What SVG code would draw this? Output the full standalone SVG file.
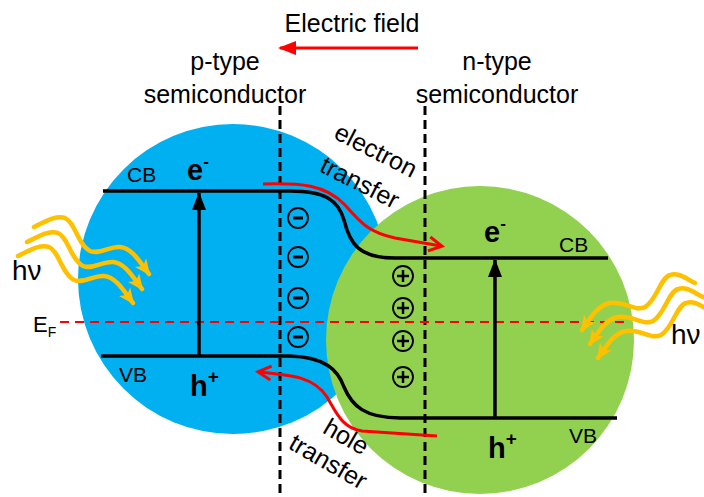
<svg xmlns="http://www.w3.org/2000/svg" width="704" height="497" viewBox="0 0 704 497">
<style>
text{font-family:"Liberation Sans",Arial,sans-serif;fill:#000}
.lbl{font-size:25px}
.band{font-size:21px}
.car{font-size:29px;font-weight:bold}
.line{fill:none;stroke:#000;stroke-width:3.5}
.dash{fill:none;stroke:#000;stroke-width:3;stroke-dasharray:9,5}
.red{fill:none;stroke:#FF0000;stroke-width:3}
.wave{fill:none;stroke:#FFC000;stroke-width:4.5;stroke-linecap:round}
.chg{fill:none;stroke:#000;stroke-width:1.8}
</style>
<defs>
<marker id="ar" markerUnits="userSpaceOnUse" markerWidth="20" markerHeight="20" viewBox="0 0 20 20" refX="16" refY="10" orient="auto"><path d="M0,3 L18,10 L0,17 Z" fill="#FF0000"/></marker>
<marker id="arr" markerUnits="userSpaceOnUse" markerWidth="20" markerHeight="20" viewBox="0 0 20 20" refX="15" refY="10" orient="auto"><path d="M3,3 L16,10 L3,17" fill="none" stroke="#FF0000" stroke-width="3"/></marker>
<marker id="ak" markerUnits="userSpaceOnUse" markerWidth="20" markerHeight="20" viewBox="0 0 20 20" refX="17" refY="10" orient="auto"><path d="M0,3 L18,10 L0,17 Z" fill="#000"/></marker>
<marker id="ay" markerUnits="userSpaceOnUse" markerWidth="20" markerHeight="20" viewBox="0 0 20 20" refX="14" refY="10" orient="auto"><path d="M0,3 L16,10 L0,17 L4,10 Z" fill="#FFC000"/></marker>
<path id="wl" d="M34,227 C45,222 55,215 65,218 C75,222 78,245 90,251 C100,255 110,246 120,247 C132,248 140,262 149,274"/>
<path id="wr" d="M695,283 C685,278 678,272 670,275 C660,278 657,300 645,307 C635,312 625,301 610,303 C598,305 590,318 582,330"/>
</defs>
<g id="p-particle"><circle cx="233" cy="279" r="155" fill="#00B0F0"/></g>
<g id="n-particle"><circle cx="480" cy="340" r="154" fill="#92D050"/></g>
<g id="title">
<text class="lbl" x="352" y="32" text-anchor="middle">Electric field</text>
<text class="lbl" x="225" y="70" text-anchor="middle">p-type</text>
<text class="lbl" x="225" y="103" text-anchor="middle">semiconductor</text>
<text class="lbl" x="497" y="70" text-anchor="middle">n-type</text>
<text class="lbl" x="497" y="103" text-anchor="middle">semiconductor</text>
</g>
<g id="connectors">
<line x1="418" y1="48" x2="280" y2="48" class="red" stroke-width="4" marker-end="url(#ar)"/>
<line x1="280" y1="106" x2="280" y2="497" class="dash"/>
<line x1="425" y1="106" x2="425" y2="497" class="dash"/>
<path class="line" d="M103,191 L290,191 C325,191 338,200 344,220 C350,245 360,258 395,258 L608,258"/>
<path class="line" d="M101,356 L290,356 C325,357 338,370 344,387 C352,406 365,418 400,418 L617,418"/>
<line x1="60" y1="322" x2="630" y2="322" stroke="#FF0000" stroke-width="2" stroke-dasharray="9,6"/>
<line x1="199" y1="356" x2="199" y2="193" class="line" marker-end="url(#ak)"/>
<line x1="495" y1="418" x2="495" y2="260" class="line" marker-end="url(#ak)"/>
<path class="red" d="M263,184 C300,183 325,184 345,205 C360,222 368,232 395,238 L441,246" marker-end="url(#arr)"/>
<path class="red" d="M437,436 L362,431 C342,428 336,412 327,397 C314,377 292,375 259,372" marker-end="url(#arr)"/>
</g>
<g id="photons-left">
<use href="#wl" class="wave" marker-end="url(#ay)"/>
<use href="#wl" class="wave" marker-end="url(#ay)" transform="translate(-7,15)"/>
<use href="#wl" class="wave" marker-end="url(#ay)" transform="translate(-16,29)"/>
<text x="12" y="280" font-size="28">hν</text>
</g>
<g id="photons-right">
<use href="#wr" class="wave" marker-end="url(#ay)"/>
<use href="#wr" class="wave" marker-end="url(#ay)" transform="translate(8,14)"/>
<use href="#wr" class="wave" marker-end="url(#ay)" transform="translate(16,28)"/>
<text x="671" y="344" font-size="28">hν</text>
</g>
<g id="fermi"><text x="33" y="332" font-size="22">E<tspan font-size="14" dy="5">F</tspan></text></g>
<g id="p-bands">
<text class="band" x="127" y="182">CB</text>
<text class="band" x="119" y="382">VB</text>
<text class="car" x="187" y="180">e<tspan font-size="17" dy="-13">-</tspan></text>
<text class="car" x="190" y="396">h<tspan font-size="19" dy="-13">+</tspan></text>
</g>
<g id="n-bands">
<text class="band" x="559" y="252">CB</text>
<text class="band" x="569" y="443">VB</text>
<text class="car" x="484" y="242">e<tspan font-size="17" dy="-13">-</tspan></text>
<text class="car" x="488" y="458">h<tspan font-size="19" dy="-13">+</tspan></text>
</g>
<g id="neg-charges">
<circle class="chg" cx="298" cy="218" r="10"/><line x1="293" y1="218" x2="303" y2="218" stroke="#000" stroke-width="3"/>
<circle class="chg" cx="298" cy="257" r="10"/><line x1="293" y1="257" x2="303" y2="257" stroke="#000" stroke-width="3"/>
<circle class="chg" cx="298" cy="298" r="10"/><line x1="293" y1="298" x2="303" y2="298" stroke="#000" stroke-width="3"/>
<circle class="chg" cx="298" cy="337" r="10"/><line x1="293" y1="337" x2="303" y2="337" stroke="#000" stroke-width="3"/>
</g>
<g id="pos-charges">
<circle class="chg" cx="403" cy="276" r="10"/><path d="M397,276 H409 M403,270 V282" stroke="#000" stroke-width="2.5"/>
<circle class="chg" cx="403" cy="308" r="10"/><path d="M397,308 H409 M403,302 V314" stroke="#000" stroke-width="2.5"/>
<circle class="chg" cx="403" cy="341" r="10"/><path d="M397,341 H409 M403,335 V347" stroke="#000" stroke-width="2.5"/>
<circle class="chg" cx="403" cy="377" r="10"/><path d="M397,377 H409 M403,371 V383" stroke="#000" stroke-width="2.5"/>
</g>
<g id="transfer-labels">
<text class="lbl" text-anchor="middle" transform="translate(372,158) rotate(27)">electron</text>
<text class="lbl" text-anchor="middle" transform="translate(356,190) rotate(27)">transfer</text>
<text class="lbl" text-anchor="middle" transform="translate(342,444) rotate(30)">hole</text>
<text class="lbl" text-anchor="middle" transform="translate(324,469) rotate(30)">transfer</text>
</g>
</svg>
